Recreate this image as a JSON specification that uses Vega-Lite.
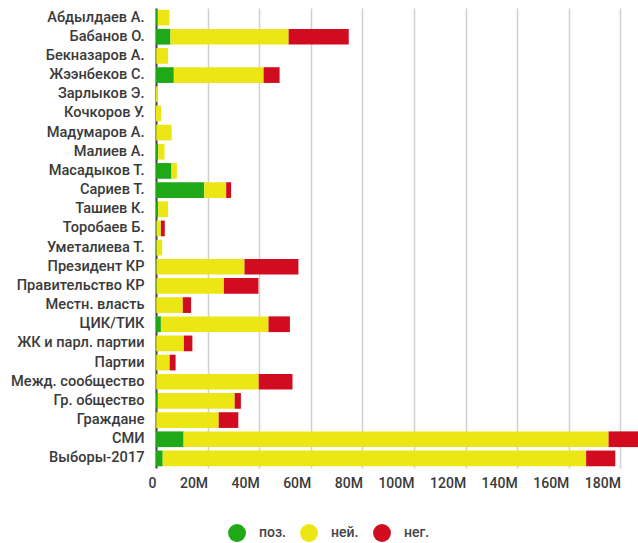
{
  "$schema": "https://vega.github.io/schema/vega-lite/v6.json",
  "autosize": "none",
  "padding": {"left": 156, "top": 8, "right": 0, "bottom": 75},
  "width": 482,
  "height": 460,
  "background": "white",
  "config": {
    "font": "Roboto",
    "view": {"stroke": null}
  },
  "data": {
    "values": [
      {"name": "Абдылдаев А.", "tone": "поз.", "ord": 1, "v": 0.7},
      {"name": "Абдылдаев А.", "tone": "ней.", "ord": 2, "v": 4.5},
      {"name": "Абдылдаев А.", "tone": "нег.", "ord": 3, "v": 0},
      {"name": "Бабанов О.", "tone": "поз.", "ord": 1, "v": 5.6},
      {"name": "Бабанов О.", "tone": "ней.", "ord": 2, "v": 45.8},
      {"name": "Бабанов О.", "tone": "нег.", "ord": 3, "v": 23.3},
      {"name": "Бекназаров А.", "tone": "поз.", "ord": 1, "v": 0.1},
      {"name": "Бекназаров А.", "tone": "ней.", "ord": 2, "v": 4.6},
      {"name": "Бекназаров А.", "tone": "нег.", "ord": 3, "v": 0},
      {"name": "Жээнбеков С.", "tone": "поз.", "ord": 1, "v": 6.9},
      {"name": "Жээнбеков С.", "tone": "ней.", "ord": 2, "v": 34.8},
      {"name": "Жээнбеков С.", "tone": "нег.", "ord": 3, "v": 6.2},
      {"name": "Зарлыков Э.", "tone": "поз.", "ord": 1, "v": 0},
      {"name": "Зарлыков Э.", "tone": "ней.", "ord": 2, "v": 0.7},
      {"name": "Зарлыков Э.", "tone": "нег.", "ord": 3, "v": 0},
      {"name": "Кочкоров У.", "tone": "поз.", "ord": 1, "v": 0},
      {"name": "Кочкоров У.", "tone": "ней.", "ord": 2, "v": 2.0},
      {"name": "Кочкоров У.", "tone": "нег.", "ord": 3, "v": 0},
      {"name": "Мадумаров А.", "tone": "поз.", "ord": 1, "v": 0.1},
      {"name": "Мадумаров А.", "tone": "ней.", "ord": 2, "v": 6.0},
      {"name": "Мадумаров А.", "tone": "нег.", "ord": 3, "v": 0},
      {"name": "Малиев А.", "tone": "поз.", "ord": 1, "v": 0.85},
      {"name": "Малиев А.", "tone": "ней.", "ord": 2, "v": 2.45},
      {"name": "Малиев А.", "tone": "нег.", "ord": 3, "v": 0},
      {"name": "Масадыков Т.", "tone": "поз.", "ord": 1, "v": 6.0},
      {"name": "Масадыков Т.", "tone": "ней.", "ord": 2, "v": 2.1},
      {"name": "Масадыков Т.", "tone": "нег.", "ord": 3, "v": 0},
      {"name": "Сариев Т.", "tone": "поз.", "ord": 1, "v": 18.7},
      {"name": "Сариев Т.", "tone": "ней.", "ord": 2, "v": 8.5},
      {"name": "Сариев Т.", "tone": "нег.", "ord": 3, "v": 1.9},
      {"name": "Ташиев К.", "tone": "поз.", "ord": 1, "v": 0.85},
      {"name": "Ташиев К.", "tone": "ней.", "ord": 2, "v": 3.85},
      {"name": "Ташиев К.", "tone": "нег.", "ord": 3, "v": 0},
      {"name": "Торобаев Б.", "tone": "поз.", "ord": 1, "v": 0.2},
      {"name": "Торобаев Б.", "tone": "ней.", "ord": 2, "v": 1.7},
      {"name": "Торобаев Б.", "tone": "нег.", "ord": 3, "v": 1.5},
      {"name": "Уметалиева Т.", "tone": "поз.", "ord": 1, "v": 0.2},
      {"name": "Уметалиева Т.", "tone": "ней.", "ord": 2, "v": 2.2},
      {"name": "Уметалиева Т.", "tone": "нег.", "ord": 3, "v": 0},
      {"name": "Президент КР", "tone": "поз.", "ord": 1, "v": 0.2},
      {"name": "Президент КР", "tone": "ней.", "ord": 2, "v": 34.1},
      {"name": "Президент КР", "tone": "нег.", "ord": 3, "v": 20.9},
      {"name": "Правительство КР", "tone": "поз.", "ord": 1, "v": 0.2},
      {"name": "Правительство КР", "tone": "ней.", "ord": 2, "v": 26.1},
      {"name": "Правительство КР", "tone": "нег.", "ord": 3, "v": 13.4},
      {"name": "Местн. власть", "tone": "поз.", "ord": 1, "v": 0.1},
      {"name": "Местн. власть", "tone": "ней.", "ord": 2, "v": 10.3},
      {"name": "Местн. власть", "tone": "нег.", "ord": 3, "v": 3.2},
      {"name": "ЦИК/ТИК", "tone": "поз.", "ord": 1, "v": 1.9},
      {"name": "ЦИК/ТИК", "tone": "ней.", "ord": 2, "v": 41.7},
      {"name": "ЦИК/ТИК", "tone": "нег.", "ord": 3, "v": 8.3},
      {"name": "ЖК и парл. партии", "tone": "поз.", "ord": 1, "v": 0.1},
      {"name": "ЖК и парл. партии", "tone": "ней.", "ord": 2, "v": 10.7},
      {"name": "ЖК и парл. партии", "tone": "нег.", "ord": 3, "v": 3.3},
      {"name": "Партии", "tone": "поз.", "ord": 1, "v": 0.1},
      {"name": "Партии", "tone": "ней.", "ord": 2, "v": 5.2},
      {"name": "Партии", "tone": "нег.", "ord": 3, "v": 2.3},
      {"name": "Межд. сообщество", "tone": "поз.", "ord": 1, "v": 0.1},
      {"name": "Межд. сообщество", "tone": "ней.", "ord": 2, "v": 39.7},
      {"name": "Межд. сообщество", "tone": "нег.", "ord": 3, "v": 13.1},
      {"name": "Гр. общество", "tone": "поз.", "ord": 1, "v": 0.7},
      {"name": "Гр. общество", "tone": "ней.", "ord": 2, "v": 29.8},
      {"name": "Гр. общество", "tone": "нег.", "ord": 3, "v": 2.4},
      {"name": "Граждане", "tone": "поз.", "ord": 1, "v": 0.1},
      {"name": "Граждане", "tone": "ней.", "ord": 2, "v": 24.2},
      {"name": "Граждане", "tone": "нег.", "ord": 3, "v": 7.6},
      {"name": "СМИ", "tone": "поз.", "ord": 1, "v": 10.7},
      {"name": "СМИ", "tone": "ней.", "ord": 2, "v": 164.7},
      {"name": "СМИ", "tone": "нег.", "ord": 3, "v": 12.0},
      {"name": "Выборы-2017", "tone": "поз.", "ord": 1, "v": 2.6},
      {"name": "Выборы-2017", "tone": "ней.", "ord": 2, "v": 164.1},
      {"name": "Выборы-2017", "tone": "нег.", "ord": 3, "v": 11.3}
    ]
  },
  "mark": {"type": "bar", "clip": true},
  "encoding": {
    "y": {
      "field": "name",
      "type": "nominal",
      "sort": null,
      "title": null,
      "scale": {"paddingInner": 0.18, "paddingOuter": 0.09},
      "axis": {
        "ticks": false,
        "domain": true,
        "domainColor": "#444",
        "domainWidth": 2,
        "labelFontSize": 14.6,
        "labelFontWeight": 500,
        "labelColor": "#3a3a3a",
        "labelPadding": 12,
        "labelLimit": 200
      }
    },
    "x": {
      "field": "v",
      "type": "quantitative",
      "stack": "zero",
      "title": null,
      "scale": {"domain": [0, 186.8], "nice": false},
      "axis": {
        "values": [0, 20, 40, 60, 80, 100, 120, 140, 160, 180],
        "labelExpr": "datum.value == 0 ? '0' : datum.value + 'M'",
        "domain": false,
        "ticks": false,
        "grid": true,
        "gridColor": "#d0d0d0",
        "gridWidth": 1.5,
        "labelAlign": "right",
        "labelDx": -8,
        "labelPadding": 8,
        "labelFontSize": 14,
        "labelFontWeight": 500,
        "labelColor": "#3a3a3a"
      }
    },
    "color": {
      "field": "tone",
      "type": "nominal",
      "scale": {
        "domain": ["поз.", "ней.", "нег."],
        "range": ["#1fa818", "#ece714", "#d10c20"]
      },
      "legend": {
        "title": null,
        "orient": "none",
        "direction": "horizontal",
        "legendX": 72,
        "legendY": 516,
        "symbolType": "circle",
        "symbolSize": 320,
        "symbolStrokeWidth": 0,
        "symbolOpacity": 1,
        "labelFontSize": 14,
        "labelFontWeight": 500,
        "labelColor": "#444",
        "labelOffset": 13,
        "columnPadding": 14,
        "padding": 0
      }
    },
    "order": {"field": "ord", "type": "quantitative"}
  }
}
